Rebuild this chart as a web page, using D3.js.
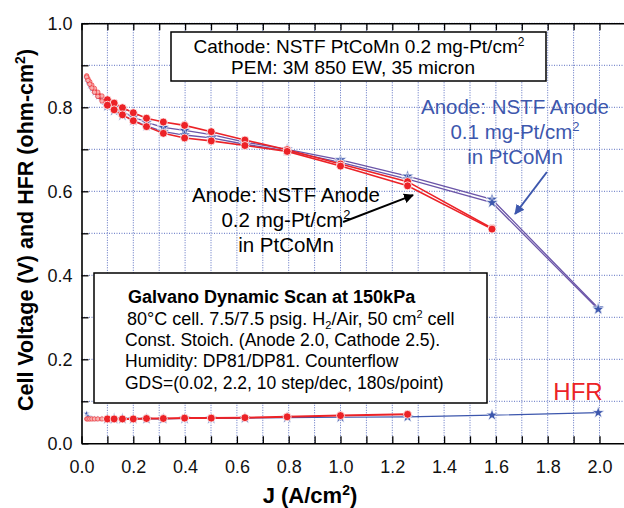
<!DOCTYPE html>
<html>
<head>
<meta charset="utf-8">
<script src="https://cdn.jsdelivr.net/npm/d3@7"></script>
<style>
body { margin: 0; background: #fff; }
text { font-family: "Liberation Sans", Arial, sans-serif; }
</style>
</head>
<body>
<script>
WIDTH = 624;
HEIGHT = 508;
RED = "#ec2227";
PURPLE = "#6b55a8";
BLUE = "#3d57ad";
GRID = "#5b6fc0";

// current density steps (A/cm2), 10 steps/dec from 0.02
var J = [0.02, 0.025, 0.032, 0.04, 0.05, 0.063, 0.079, 0.1, 0.126, 0.158, 0.2,
         0.251, 0.316, 0.398, 0.501, 0.631, 0.794, 1.0, 1.259, 1.585, 1.995];

// anode 0.2 mg-Pt/cm2 (two scans), ends at 1.585
var vRedA = [0.875, 0.868, 0.861, 0.853, 0.845, 0.836, 0.827, 0.818, 0.810, 0.799, 0.787,
             0.774, 0.765, 0.757, 0.742, 0.722, 0.699, 0.665, 0.623, 0.512];
var vRedB = [0.872, 0.864, 0.855, 0.846, 0.836, 0.826, 0.815, 0.805, 0.794, 0.782, 0.768,
             0.754, 0.738, 0.727, 0.720, 0.709, 0.695, 0.660, 0.613, 0.510];

// anode 0.1 mg-Pt/cm2 (two scans)
var vPurA = [0.870, 0.862, 0.854, 0.846, 0.838, 0.829, 0.819, 0.809, 0.800, 0.790, 0.777,
             0.764, 0.752, 0.745, 0.735, 0.717, 0.700, 0.675, 0.636, 0.581, 0.322];
var vPurB = [0.868, 0.860, 0.851, 0.843, 0.834, 0.824, 0.814, 0.803, 0.792, 0.781, 0.769,
             0.756, 0.742, 0.734, 0.727, 0.712, 0.696, 0.669, 0.629, 0.573, 0.319];

// HFR (ohm-cm2)
var hfrRed = [0.058, 0.058, 0.058, 0.058, 0.058, 0.058, 0.058, 0.058, 0.058, 0.058, 0.058,
              0.059, 0.059, 0.060, 0.060, 0.061, 0.063, 0.066, 0.069];
var hfrBlue = [0.071, 0.064, 0.060, 0.059, 0.058, 0.058, 0.058, 0.058, 0.058, 0.058, 0.058,
               0.058, 0.058, 0.059, 0.059, 0.060, 0.061, 0.062, 0.063, 0.067, 0.073];

var xTicks = [0, 0.1, 0.2, 0.3, 0.4, 0.5, 0.6, 0.7, 0.8, 0.9, 1.0, 1.1, 1.2, 1.3, 1.4,
              1.5, 1.6, 1.7, 1.8, 1.9, 2.0, 2.1];
var yTicks = [0, 0.1, 0.2, 0.3, 0.4, 0.5, 0.6, 0.7, 0.8, 0.9, 1.0];

function pts(vals) { return vals.map((v, i) => [J[i], v]); }

var svg = d3.select("body").append("svg")
    .attr("width", WIDTH)
    .attr("height", HEIGHT);

var x = d3.scaleLinear().domain([0, 2.1]).range([81.5, 625.4]);
var y = d3.scaleLinear().domain([0, 1]).range([443.3, 23.3]);

var defs = svg.append("defs");
function arrowHead(id, col) {
    defs.append("marker")
        .attr("id", id)
        .attr("viewBox", "0 0 10 10")
        .attr("refX", 9).attr("refY", 5)
        .attr("markerWidth", 5).attr("markerHeight", 5)
        .attr("orient", "auto")
      .append("path")
        .attr("d", "M0,0L10,5L0,10z")
        .attr("fill", col);
}
arrowHead("ahBlack", "#000");
arrowHead("ahBlue", BLUE);

// dotted grid
svg.append("g").selectAll("line").data(xTicks.slice(1)).enter().append("line")
    .attr("x1", d => x(d)).attr("x2", d => x(d))
    .attr("y1", y(0)).attr("y2", y(1))
    .attr("stroke", GRID).attr("stroke-width", 1).attr("stroke-dasharray", "1,1.5");
svg.append("g").selectAll("line").data(yTicks.slice(1)).enter().append("line")
    .attr("y1", d => y(d)).attr("y2", d => y(d))
    .attr("x1", x(0)).attr("x2", WIDTH)
    .attr("stroke", GRID).attr("stroke-width", 1).attr("stroke-dasharray", "1,1.5");

// text boxes (drawn before the curves, they hide the grid)
svg.append("rect")
    .attr("x", 171).attr("y", 32).attr("width", 375).attr("height", 49)
    .attr("fill", "#fff").attr("stroke", "#000").attr("stroke-width", 1.5);
svg.append("rect")
    .attr("x", 94).attr("y", 273).attr("width", 393).attr("height", 130)
    .attr("fill", "#fff").attr("stroke", "#000").attr("stroke-width", 1.5);

var line = d3.line().x(d => x(d[0])).y(d => y(d[1]));

// purple (0.1 anode) curves
[vPurA, vPurB].forEach(function(v) {
    svg.append("path").datum(pts(v))
        .attr("d", line).attr("fill", "none")
        .attr("stroke", PURPLE).attr("stroke-width", 1.3);
});
var star = d3.symbol().type(d3.symbolStar);
[vPurA, vPurB].forEach(function(v) {
    svg.append("g").selectAll("path").data(pts(v)).enter().append("path")
        .attr("transform", d => "translate(" + x(d[0]) + "," + y(d[1]) + ")")
        .attr("d", d => star.size(d[0] < 0.1 ? 14 : 45)())
        .attr("fill", BLUE).attr("stroke", "#fff").attr("stroke-width", 0.6);
});

// red (0.2 anode) curves
[vRedA, vRedB].forEach(function(v) {
    svg.append("path").datum(pts(v))
        .attr("d", line).attr("fill", "none")
        .attr("stroke", RED).attr("stroke-width", 1.6);
});
[vRedA, vRedB].forEach(function(v) {
    svg.append("g").selectAll("circle").data(pts(v)).enter().append("circle")
        .attr("cx", d => x(d[0])).attr("cy", d => y(d[1]))
        .attr("r", d => d[0] < 0.1 ? 2.2 : 4)
        .attr("fill", d => d[0] < 0.1 ? "#f8b0b0" : RED)
        .attr("stroke", d => d[0] < 0.1 ? RED : "#fff")
        .attr("stroke-width", d => d[0] < 0.1 ? 0.6 : 0.8);
});

// HFR
svg.append("path").datum(pts(hfrBlue))
    .attr("d", line).attr("fill", "none")
    .attr("stroke", BLUE).attr("stroke-width", 1.2);
svg.append("g").selectAll("path").data(pts(hfrBlue)).enter().append("path")
    .attr("transform", d => "translate(" + x(d[0]) + "," + y(d[1]) + ")")
    .attr("d", d => star.size(d[0] < 0.1 ? 14 : 45)())
    .attr("fill", BLUE).attr("stroke", "#fff").attr("stroke-width", 0.6);
svg.append("path").datum(pts(hfrRed))
    .attr("d", line).attr("fill", "none")
    .attr("stroke", RED).attr("stroke-width", 2);
svg.append("g").selectAll("circle").data(pts(hfrRed)).enter().append("circle")
    .attr("cx", d => x(d[0])).attr("cy", d => y(d[1]))
    .attr("r", d => d[0] < 0.1 ? 2.2 : 4)
    .attr("fill", d => d[0] < 0.1 ? "#f8b0b0" : RED)
    .attr("stroke", d => d[0] < 0.1 ? RED : "#fff")
    .attr("stroke-width", d => d[0] < 0.1 ? 0.6 : 0.8);

// axes, ticks inside
var fmt = d3.format(".1f");
function lab(d) { return Math.round(d * 10) % 2 === 0 ? fmt(d) : ""; }

svg.append("g")
    .attr("transform", "translate(0," + y(0) + ")")
    .call(d3.axisBottom(x).tickValues(xTicks).tickSize(-7).tickSizeOuter(0)
        .tickPadding(17).tickFormat(d => d > 2.05 ? "" : lab(d)));
svg.append("g")
    .attr("transform", "translate(0," + y(1) + ")")
    .call(d3.axisTop(x).tickValues(xTicks).tickSize(-7).tickSizeOuter(0).tickFormat(""));
svg.append("g")
    .attr("transform", "translate(" + x(0) + ",0)")
    .call(d3.axisLeft(y).tickValues(yTicks).tickSize(-7).tickSizeOuter(0)
        .tickPadding(9).tickFormat(lab));

svg.selectAll(".domain").attr("stroke", "#000").attr("stroke-width", 1.6);
svg.selectAll(".tick line").attr("stroke", "#000").attr("stroke-width", 1.3);
svg.selectAll(".tick text")
    .attr("font-family", "Liberation Sans, Arial, sans-serif")
    .attr("font-size", 18).attr("fill", "#111");

// axis titles
var yt = svg.append("text")
    .attr("transform", "rotate(-90)")
    .attr("x", -230).attr("y", 33)
    .attr("text-anchor", "middle")
    .attr("font-size", 21.5).attr("font-weight", "bold");
yt.append("tspan").text("Cell Voltage (V) and HFR (ohm-cm");
yt.append("tspan").attr("font-size", 14).attr("dy", -8).text("2");
yt.append("tspan").attr("dy", 8).text(")");

var xt = svg.append("text")
    .attr("x", 310).attr("y", 503)
    .attr("text-anchor", "middle")
    .attr("font-size", 22).attr("font-weight", "bold");
xt.append("tspan").text("J (A/cm");
xt.append("tspan").attr("font-size", 14).attr("dy", -8).text("2");
xt.append("tspan").attr("dy", 8).text(")");

// top box text
var t1 = svg.append("text").attr("x", 359).attr("y", 53)
    .attr("text-anchor", "middle").attr("font-size", 19);
t1.append("tspan").text("Cathode: NSTF PtCoMn 0.2 mg-Pt/cm");
t1.append("tspan").attr("font-size", 12).attr("dy", -7).text("2");
svg.append("text").attr("x", 353).attr("y", 74)
    .attr("text-anchor", "middle").attr("font-size", 19)
    .text("PEM: 3M 850 EW, 35 micron");

// galvano box text
svg.append("text").attr("x", 128).attr("y", 303)
    .attr("font-size", 18).attr("font-weight", "bold")
    .text("Galvano Dynamic Scan at 150kPa");
var g2 = svg.append("text").attr("x", 127).attr("y", 325).attr("font-size", 18);
g2.append("tspan").text("80°C cell. 7.5/7.5 psig. H");
g2.append("tspan").attr("font-size", 11).attr("dy", 4).text("2");
g2.append("tspan").attr("dy", -4).text("/Air, 50 cm");
g2.append("tspan").attr("font-size", 11).attr("dy", -7).text("2");
g2.append("tspan").attr("dy", 7).text(" cell");
svg.append("text").attr("x", 125).attr("y", 346).attr("font-size", 17.5)
    .text("Const. Stoich. (Anode 2.0, Cathode 2.5).");
svg.append("text").attr("x", 125).attr("y", 367).attr("font-size", 17.5)
    .text("Humidity: DP81/DP81.  Counterflow");
svg.append("text").attr("x", 125).attr("y", 389).attr("font-size", 17.5)
    .text("GDS=(0.02, 2.2, 10 step/dec, 180s/point)");

// annotations
function note(lines, cx, base, col) {
    lines.forEach(function(l, i) {
        var t = svg.append("text").attr("x", cx).attr("y", base + i * 25)
            .attr("text-anchor", "middle").attr("font-size", 20.5).attr("fill", col);
        if (l.indexOf("^2") >= 0) {
            t.append("tspan").text(l.replace("^2", ""));
            t.append("tspan").attr("font-size", 13).attr("dy", -8).text("2");
        } else {
            t.text(l);
        }
    });
}
note(["Anode: NSTF Anode", "0.2 mg-Pt/cm^2", "in PtCoMn"], 286, 202, "#000");
note(["Anode: NSTF Anode", "0.1 mg-Pt/cm^2", "in PtCoMn"], 515, 114, BLUE);

svg.append("line")
    .attr("x1", x(1.01)).attr("y1", y(0.527))
    .attr("x2", x(1.28)).attr("y2", y(0.591))
    .attr("stroke", "#000").attr("stroke-width", 2)
    .attr("marker-end", "url(#ahBlack)");
svg.append("line")
    .attr("x1", x(1.797)).attr("y1", y(0.646))
    .attr("x2", x(1.674)).attr("y2", y(0.546))
    .attr("stroke", BLUE).attr("stroke-width", 2)
    .attr("marker-end", "url(#ahBlue)");

svg.append("text").attr("x", 578).attr("y", 400)
    .attr("text-anchor", "middle").attr("font-size", 24).attr("fill", RED)
    .text("HFR");
</script>
</body>
</html>
